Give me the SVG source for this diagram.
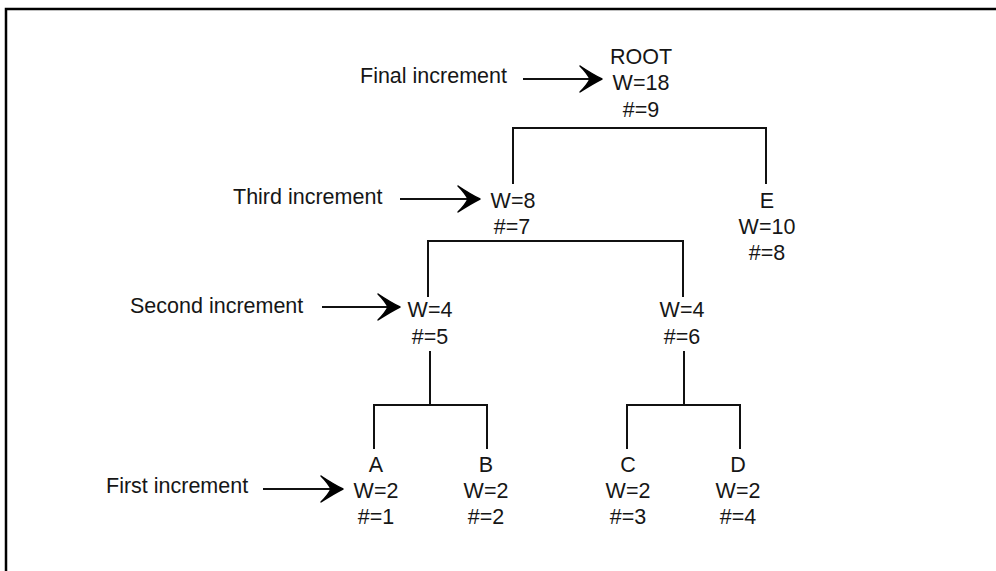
<svg xmlns="http://www.w3.org/2000/svg" xmlns:xlink="http://www.w3.org/1999/xlink" width="996" height="571" viewBox="0 0 996 571">
<style>
  text { font-family: "Liberation Sans", Arial, sans-serif; font-size: 21.5px; fill: #161616; }
  .n { text-anchor: middle; }
  .l { text-anchor: start; }
  .c { fill: none; stroke: #111; stroke-width: 2; stroke-linecap: square; }
  .a { fill: none; stroke: #111; stroke-width: 2; }
  .h { fill: #000; stroke: #000; stroke-width: 1.4; stroke-linejoin: round; }
</style>
<defs>
  <path id="ah" d="M0,0 Q-10,-5 -22,-13 Q-15,-6 -12,0 Q-15,6 -22,13 Q-10,5 0,0 Z"/>
</defs>
<rect width="996" height="571" fill="#fff"/>
<g id="frame">
  <path d="M6,571 V9 H996" fill="none" stroke="#000" stroke-width="2.5"/>
</g>
<g id="connectors">
  <path class="c" d="M513,183 V128 H766 V183"/>
  <path class="c" d="M428,296 V241 H683 V296"/>
  <path class="c" d="M430,352 V405"/>
  <path class="c" d="M374,448 V405 H487 V448"/>
  <path class="c" d="M684,352 V405"/>
  <path class="c" d="M627,448 V405 H740 V448"/>
</g>
<g id="annotations">
  <g id="final-increment">
    <text class="l" x="360" y="83">Final increment</text>
    <line class="a" x1="523" y1="79" x2="592" y2="79"/>
    <use xlink:href="#ah" class="h" transform="translate(602,79)"/>
  </g>
  <g id="third-increment">
    <text class="l" x="233" y="204">Third increment</text>
    <line class="a" x1="400" y1="199" x2="470" y2="199"/>
    <use xlink:href="#ah" class="h" transform="translate(480,199)"/>
  </g>
  <g id="second-increment">
    <text class="l" x="130" y="313">Second increment</text>
    <line class="a" x1="322" y1="307" x2="390" y2="307"/>
    <use xlink:href="#ah" class="h" transform="translate(400,307)"/>
  </g>
  <g id="first-increment">
    <text class="l" x="106" y="493">First increment</text>
    <line class="a" x1="263" y1="489" x2="333" y2="489"/>
    <use xlink:href="#ah" class="h" transform="translate(343,489)"/>
  </g>
</g>
<g id="node-root">
  <text class="n" x="641" y="64">ROOT</text>
  <text class="n" x="641" y="90">W=18</text>
  <text class="n" x="641" y="117">#=9</text>
</g>
<g id="node-w8">
  <text class="n" x="513" y="208">W=8</text>
  <text class="n" x="512" y="234">#=7</text>
</g>
<g id="node-e">
  <text class="n" x="767" y="208">E</text>
  <text class="n" x="767" y="234">W=10</text>
  <text class="n" x="767" y="260">#=8</text>
</g>
<g id="node-w4-left">
  <text class="n" x="430" y="317">W=4</text>
  <text class="n" x="430" y="344">#=5</text>
</g>
<g id="node-w4-right">
  <text class="n" x="682" y="317">W=4</text>
  <text class="n" x="682" y="344">#=6</text>
</g>
<g id="node-a">
  <text class="n" x="376" y="472">A</text>
  <text class="n" x="376" y="498">W=2</text>
  <text class="n" x="376" y="524">#=1</text>
</g>
<g id="node-b">
  <text class="n" x="486" y="472">B</text>
  <text class="n" x="486" y="498">W=2</text>
  <text class="n" x="486" y="524">#=2</text>
</g>
<g id="node-c">
  <text class="n" x="628" y="472">C</text>
  <text class="n" x="628" y="498">W=2</text>
  <text class="n" x="628" y="524">#=3</text>
</g>
<g id="node-d">
  <text class="n" x="738" y="472">D</text>
  <text class="n" x="738" y="498">W=2</text>
  <text class="n" x="738" y="524">#=4</text>
</g>
</svg>
